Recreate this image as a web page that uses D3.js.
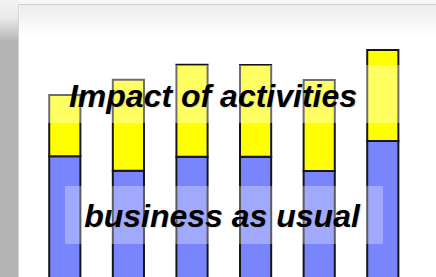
<!DOCTYPE html>
<html>
<head>
<meta charset="utf-8">
<script src="https://cdn.jsdelivr.net/npm/d3@7"></script>
<style>
  html, body { margin: 0; padding: 0; background: #ffffff; overflow: hidden; }
  svg { display: block; }
</style>
</head>
<body>
<script>
// categories and stacked values
var categories = ["1", "2", "3", "4", "5", "6"];
var usualValues = [49.5, 43.7, 49.3, 49.3, 43.6, 55.6];
var impactValues = [24.5, 36.4, 36.8, 36.7, 36.4, 36.4];
var labels = ["Impact of activities", "business as usual"];

var W = 436, H = 277;

var svg = d3.select("body")
    .append("svg")
    .attr("width", W)
    .attr("height", H);

var defs = svg.append("defs");

// left grey strip gradient
var gLeft = defs.append("linearGradient")
    .attr("id", "leftGrad")
    .attr("x1", 0).attr("y1", 0).attr("x2", 0).attr("y2", 1);
gLeft.append("stop").attr("offset", "0%").attr("stop-color", "#f2f2f2");
gLeft.append("stop").attr("offset", "6%").attr("stop-color", "#ececec");
gLeft.append("stop").attr("offset", "15%").attr("stop-color", "#b4b4b4");
gLeft.append("stop").attr("offset", "100%").attr("stop-color", "#b4b4b4");

// soft shadow at the top of the panel
var gTop = defs.append("linearGradient")
    .attr("id", "topGrad")
    .attr("x1", 0).attr("y1", 0).attr("x2", 0).attr("y2", 1);
gTop.append("stop").attr("offset", "0%").attr("stop-color", "#ececec");
gTop.append("stop").attr("offset", "100%").attr("stop-color", "#ffffff");

// background pieces
svg.append("rect").attr("x", 0).attr("y", 0).attr("width", W).attr("height", H).attr("fill", "#f7f7f7");
svg.append("rect").attr("x", 0).attr("y", 0).attr("width", 19).attr("height", H).attr("fill", "url(#leftGrad)");
svg.append("rect").attr("x", 19).attr("y", 4).attr("width", W - 19).attr("height", H - 4).attr("fill", "#ffffff");
svg.append("rect").attr("x", 19.5).attr("y", 4.5).attr("width", W - 19).attr("height", 32).attr("fill", "url(#topGrad)");
svg.append("line").attr("x1", 18.5).attr("y1", 4.5).attr("x2", W).attr("y2", 4.5)
    .attr("stroke", "#cfcfcf").attr("stroke-width", 1);
svg.append("line").attr("x1", 18.5).attr("y1", 4.5).attr("x2", 18.5).attr("y2", H)
    .attr("stroke", "#d4d4d4").attr("stroke-width", 1);

// scales
var x = d3.scaleBand()
    .domain(categories)
    .range([33, 414.6])
    .paddingInner(0.51)
    .paddingOuter(0.255);

var y = d3.scaleLinear()
    .domain([0, 100])
    .range([280, 30]);

var data = categories.map(function(c, i){
    return {cat: c, usual: usualValues[i], impact: impactValues[i]};
});

var bars = svg.append("g").attr("class", "bars");

// blue: business as usual
bars.selectAll("rect.usual")
    .data(data)
    .enter()
    .append("rect")
    .attr("class", "usual")
    .attr("x", function(d){ return x(d.cat); })
    .attr("y", function(d){ return y(d.usual); })
    .attr("width", x.bandwidth())
    .attr("height", function(d){ return y(0) - y(d.usual); })
    .attr("fill", "#7985fc")
    .attr("stroke", "#161616")
    .attr("stroke-width", 2);

// yellow: impact of activities, stacked on top
bars.selectAll("rect.impact")
    .data(data)
    .enter()
    .append("rect")
    .attr("class", "impact")
    .attr("x", function(d){ return x(d.cat); })
    .attr("y", function(d){ return y(d.usual + d.impact); })
    .attr("width", x.bandwidth())
    .attr("height", function(d){ return y(d.usual) - y(d.usual + d.impact); })
    .attr("fill", "#ffff00")
    .attr("stroke", "#161616")
    .attr("stroke-width", 2);

// translucent label panels
svg.append("rect").attr("x", 38).attr("y", 65).attr("width", 372).attr("height", 58)
    .attr("fill", "#ffffff").attr("opacity", 0.38);
svg.append("rect").attr("x", 65).attr("y", 186).attr("width", 318).attr("height", 58)
    .attr("fill", "#ffffff").attr("opacity", 0.3);

// labels
var labelPos = [[213, 107], [222, 227]];
labels.forEach(function(t, i){
    svg.append("text")
        .attr("x", labelPos[i][0] + 1)
        .attr("y", labelPos[i][1] + 1)
        .attr("text-anchor", "middle")
        .attr("font-family", "Liberation Sans, Arial, sans-serif")
        .attr("font-weight", "bold")
        .attr("font-style", "italic")
        .attr("font-size", "32px")
        .attr("fill", "#999999")
        .attr("opacity", 0.25)
        .text(t);
    svg.append("text")
        .attr("x", labelPos[i][0])
        .attr("y", labelPos[i][1])
        .attr("text-anchor", "middle")
        .attr("font-family", "Liberation Sans, Arial, sans-serif")
        .attr("font-weight", "bold")
        .attr("font-style", "italic")
        .attr("font-size", "32px")
        .attr("fill", "#000000")
        .text(t);
});
</script>
</body>
</html>
